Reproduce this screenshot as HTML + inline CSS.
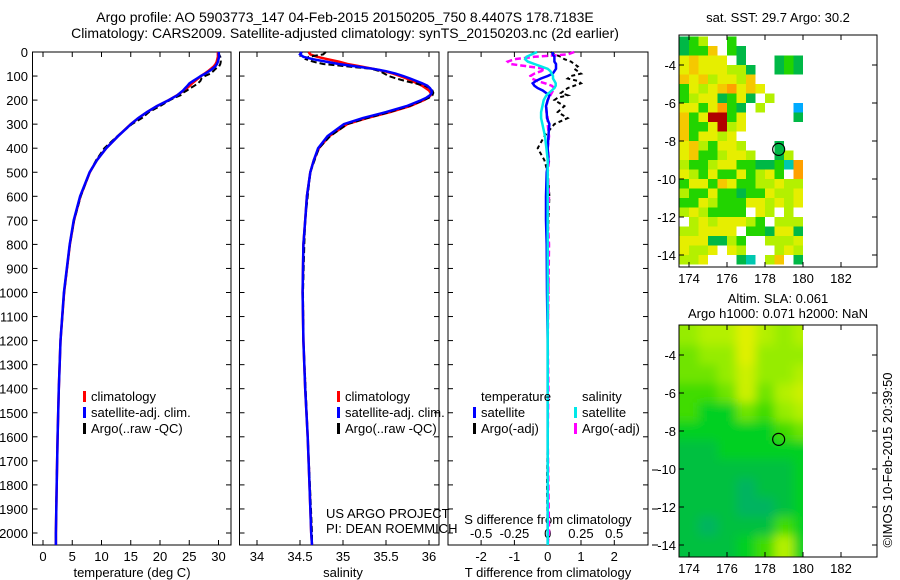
<!DOCTYPE html>
<html><head><meta charset="utf-8"><style>
body{margin:0;background:#fff;}
svg{display:block;font-family:"Liberation Sans",sans-serif;}
text{font-size:13px;fill:#000;}
</style></head><body>
<svg id="fig" width="900" height="580" viewBox="0 0 900 580">
<defs>
<filter id="blur" x="-5%" y="-5%" width="110%" height="110%"><feGaussianBlur stdDeviation="5"/></filter>
<clipPath id="clipSla"><rect x="679" y="325" width="124" height="232"/></clipPath>
</defs>
<text x="345" y="22" text-anchor="middle" style="font-size:14px">Argo profile: AO 5903773_147 04-Feb-2015 20150205_750 8.4407S 178.7183E</text>
<text x="345" y="38" text-anchor="middle" style="font-size:14px">Climatology: CARS2009. Satellite-adjusted climatology: synTS_20150203.nc (2d earlier)</text>
<text x="778" y="22" text-anchor="middle">sat. SST: 29.7 Argo: 30.2</text>
<text x="778" y="303" text-anchor="middle">Altim. SLA: 0.061</text>
<text x="778" y="318" text-anchor="middle">Argo h1000: 0.071 h2000: NaN</text>
<text transform="translate(892,460) rotate(-90)" text-anchor="middle">©IMOS 10-Feb-2015 20:39:50</text>
<g id="g"></g>
</svg>
<script>
const depths=[0,10,20,30,40,50,60,70,80,90,100,110,120,130,140,150,160,170,180,190,200,225,250,275,300,350,400,450,500,600,700,800,1000,1200,1400,1600,1800,2000,2050];
const tClim=[29.9,29.9,29.9,29.8,29.7,29.5,29.2,28.7,28.2,27.6,27.0,26.5,26.0,25.5,25.1,24.6,24.1,23.5,22.9,22.2,21.5,19.5,17.8,16.3,15.0,12.8,10.8,9.2,8.0,6.4,5.3,4.6,3.6,3.0,2.7,2.5,2.35,2.2,2.2];
const sClim=[34.6,34.62,34.7,34.82,34.95,35.05,35.2,35.35,35.48,35.58,35.66,35.74,35.8,35.86,35.92,35.96,36.0,36.02,36.02,35.99,35.94,35.78,35.55,35.28,35.05,34.84,34.72,34.66,34.62,34.58,34.56,34.54,34.53,34.54,34.56,34.59,34.61,34.63,34.64];
const tSatDiff=[0.15,0.15,0.2,0.2,0.2,0.25,0.25,0.25,0.2,0.15,0,-0.2,-0.35,-0.45,-0.4,-0.3,-0.15,-0.05,0.05,0.03,0,-0.05,-0.03,-0.02,0.05,0.02,0,0.02,-0.03,-0.05,-0.05,-0.03,-0.02,0,0,0,0,0,0];
const tArgoDiff=[0.1,0.2,0.4,0.5,0.7,0.8,0.9,0.8,0.9,1.0,0.7,0.6,0.9,1.0,0.8,0.6,0.5,0.4,0.6,0.3,0.2,0.5,0.3,0.6,0.2,-0.1,-0.3,-0.1,0,0.05,0.02,0,0.02,0,0,0,-0.02,0,0];
const sSatDiff=[-0.08,-0.12,-0.16,-0.17,-0.15,-0.1,-0.05,0,0.02,0.03,0.04,0.04,0.05,0.06,0.06,0.05,0.03,0.01,-0.01,-0.02,-0.03,-0.04,-0.05,-0.05,-0.04,-0.02,-0.01,0,0,0,0,0,0,0,0,0,0,0,0];
const sArgoDiff=[0.2,0.15,-0.1,-0.25,-0.3,-0.28,-0.15,-0.02,-0.05,-0.1,-0.13,-0.12,-0.08,-0.02,0.03,0.05,0.04,0.03,0.02,0.01,0,-0.01,-0.01,0,0,0.01,0,0.01,0,0.01,0,0.01,0.005,0,0.005,0,0.005,0.01,0];
const depthTicks=[0,100,200,300,400,500,600,700,800,900,1000,1100,1200,1300,1400,1500,1600,1700,1800,1900,2000];
const tTicks=[0,5,10,15,20,25,30];
const sTicks=[34,34.5,35,35.5,36];
const tdTicks=[-2,-1,0,1,2];
const sdTicks=[-0.5,-0.25,0,0.25,0.5];
const sdTickLabels=["-0.5","-0.25","0","0.25","0.5"];
const latTicks=[-4,-6,-8,-10,-12,-14];
const lonTicks=[174,176,178,180,182];
const sstRows=[
"dgl..g........",
"dggo.gd.......",
"yoyyy.d...dgd.",
"yoyyylld..dgd.",
"oyolyylo......",
"gylyoOyoy.....",
"glyydgyd.l....",
"yygyOgd.l...b.",
"ogyrrgy.....d.",
"oggyrly.......",
"ogyyly........",
"yolgyyl...d...",
"yogglyyl..dl..",
"lgglyyggddgcO.",
"ylgyggyglyg.O.",
"gyygoyggllyll.",
"lggyggdggylly.",
"ggylgggyylyly.",
"lylgggg.yl.l..",
".lylyyylg.lll.",
"llyyyy.ggdyyd.",
"yyyddlg..lllY.",
"ylly.yl...lyl.",
"lly...dc.lo.d."];
const sstColors={y:"#e6ee00",l:"#b4f000",g:"#22d400",d:"#00b846",o:"#f5c800",O:"#ffa000",r:"#b00000",c:"#00c8b0",b:"#00aaff",Y:"#d8f000"};
const slaRows=[[6,7,7,9,7,6,7],[5,6,6,9,6,6,6],[5,5,6,8,6,6,7],[4,4,5,8,5,7,8],[4,3,3,5,4,6,7],[3,3,3,3,3,4,5],[2,2,3,3,3,3,3],[2,2,2,2,2,2,3],[2,2,2,1,2,2,3],[2,2,2,1,1,2,3],[2,1,2,2,2,4,3],[2,2,2,3,4,7,3]];
const argoLon=178.7183, argoLat=-8.4407;

const NS="http://www.w3.org/2000/svg";
const G=document.getElementById('g');
function mk(tag,attrs,parent){const e=document.createElementNS(NS,tag);for(const k in attrs)e.setAttribute(k,attrs[k]);(parent||G).appendChild(e);return e;}
function txt(x,y,s,anchor,parent){const e=mk('text',{x:x,y:y,'text-anchor':anchor||'middle'},parent);e.textContent=s;return e;}

const TOP=52,BOT=545;
const yD=d=>TOP+d*0.2405;
const xT=t=>43+t*5.85;
const xS=s=>257+(s-34)*86;
const xTD=t=>547.7+t*33.3;
const xSD=s=>547.7+s*133;

function panel(name,x0,x1){
  const g=mk('g',{});
  
  
  mk('rect',{x:x0,y:TOP,width:x1-x0,height:BOT-TOP,fill:'none',stroke:'#000','stroke-width':1},g);
  depthTicks.forEach(d=>{
    mk('line',{x1:x0,x2:x0+5,y1:yD(d),y2:yD(d),stroke:'#000'},g);
    mk('line',{x1:x1,x2:x1-5,y1:yD(d),y2:yD(d),stroke:'#000'},g);
  });
  return g;
}
function path(fn,vals,diff,color,w,dash,parent,name){
  let d='';
  depths.forEach((z,i)=>{const v=diff?vals[i]+diff[i]:vals[i];d+=(i?'L':'M')+fn(v).toFixed(1)+','+yD(z).toFixed(1);});
  const p=mk('path',{d:d,fill:'none',stroke:color,'stroke-width':w},parent);
  if(dash)p.setAttribute('stroke-dasharray',dash);
  
  
  return p;
}
function legend(x,y,color,label,parent,name){
  const r=mk('rect',{x:x,y:y-10,width:3,height:11,fill:color},parent);
  
  
  const t=txt(x+8,y,label,'start',parent);
  
  
}

const p1=panel('temperature-panel',32.5,231);
depthTicks.forEach(d=>{txt(28,yD(d)+5,String(d),'end',p1);});
tTicks.forEach(v=>{mk('line',{x1:xT(v),x2:xT(v),y1:BOT,y2:BOT-5,stroke:'#000'},p1);mk('line',{x1:xT(v),x2:xT(v),y1:TOP,y2:TOP+5,stroke:'#000'},p1);txt(xT(v),561,String(v),'middle',p1);});
const xl1=txt(132,577,'temperature (deg C)','middle',p1);


path(xT,tClim,null,'#ff0000',2.5,null,p1,'temp-climatology-line');
path(xT,tClim,tArgoDiff,'#000',2,'6,3',p1,'temp-argo-line');
path(xT,tClim,tSatDiff,'#0000ff',2.5,null,p1,'temp-satellite-line');
legend(83,401,'#ff0000','climatology',p1,'legend-climatology');
legend(83,417,'#0000ff','satellite-adj. clim.',p1,'legend-satellite-adj');
legend(83,433,'#000','Argo(..raw -QC)',p1,'legend-argo');

const p2=panel('salinity-panel',239.5,439);
sTicks.forEach(v=>{mk('line',{x1:xS(v),x2:xS(v),y1:BOT,y2:BOT-5,stroke:'#000'},p2);mk('line',{x1:xS(v),x2:xS(v),y1:TOP,y2:TOP+5,stroke:'#000'},p2);txt(xS(v),561,String(v),'middle',p2);});
const xl2=txt(343,577,'salinity','middle',p2);


path(xS,sClim,null,'#ff0000',2.5,null,p2,'sal-climatology-line');
path(xS,sClim,sArgoDiff,'#000',2,'6,3',p2,'sal-argo-line');
path(xS,sClim,sSatDiff,'#0000ff',2.5,null,p2,'sal-satellite-line');
legend(337,401,'#ff0000','climatology',p2,'legend-sal-climatology');
legend(337,417,'#0000ff','satellite-adj. clim.',p2,'legend-sal-satellite-adj');
legend(337,433,'#000','Argo(..raw -QC)',p2,'legend-sal-argo');
txt(326,518,'US ARGO PROJECT','start',p2);
txt(326,533,'PI: DEAN ROEMMICH','start',p2);

const p3=panel('difference-panel',448,648);
tdTicks.forEach(v=>{mk('line',{x1:xTD(v),x2:xTD(v),y1:BOT,y2:BOT-5,stroke:'#000'},p3);mk('line',{x1:xTD(v),x2:xTD(v),y1:TOP,y2:TOP+5,stroke:'#000'},p3);txt(xTD(v),561,String(v),'middle',p3);});
sdTicks.forEach((v,i)=>{txt(xSD(v),538,sdTickLabels[i],'middle',p3);});
txt(548,524,'S difference from climatology','middle',p3);
const xl3=txt(548,577,'T difference from climatology','middle',p3);


[470,509,545].forEach(y=>mk('line',{x1:652,x2:658,y1:y,y2:y,stroke:'#000'},p3));
const zero=depths.map(()=>0);
path(xTD,zero,tArgoDiff,'#000',2,'4,3',p3,'t-argo-diff-line');
path(xSD,zero,sArgoDiff,'#ff00ff',2.5,'6,3',p3,'s-argo-diff-line');
path(xTD,zero,tSatDiff,'#0000ff',2.5,null,p3,'t-satellite-diff-line');
path(xSD,zero,sSatDiff,'#00e8e8',2.5,null,p3,'s-satellite-diff-line');
txt(481,401,'temperature','start',p3);
legend(473,417,'#0000ff','satellite',p3,'legend-t-satellite');
legend(473,433,'#000','Argo(-adj)',p3,'legend-t-argo');
txt(582,401,'salinity','start',p3);
legend(574,417,'#00e8e8','satellite',p3,'legend-s-satellite');
legend(574,433,'#ff00ff','Argo(-adj)',p3,'legend-s-argo');

const MX0=679,MX1=877;
const lonX=l=>689+(l-174)*19;
function mapFrame(name){
  const g=mk('g',{});
  
  
  return g;
}
function mapAxes(g,top,bot,latY){
  mk('rect',{x:MX0,y:top,width:MX1-MX0,height:bot-top,fill:'none',stroke:'#000'},g);
  latTicks.forEach(l=>{const y=latY(l);mk('line',{x1:MX0,x2:MX0+5,y1:y,y2:y,stroke:'#000'},g);mk('line',{x1:MX1,x2:MX1-5,y1:y,y2:y,stroke:'#000'},g);txt(676,y+5,String(l),'end',g);});
  lonTicks.forEach(l=>{const x=lonX(l);mk('line',{x1:x,x2:x,y1:top,y2:top+5,stroke:'#000'},g);mk('line',{x1:x,x2:x,y1:bot,y2:bot-5,stroke:'#000'},g);txt(x,bot+16,String(l),'middle',g);});
  const c=mk('circle',{cx:lonX(argoLon),cy:latY(argoLat),r:6,fill:'none',stroke:'#000','stroke-width':1.2},g);
  
  
}
const sstTop=35,sstBot=267;
const latY1=l=>65+(-4-l)*19;
const gm1=mapFrame('sst-map');
sstRows.forEach((row,r)=>{
  for(let c=0;c<row.length;c++){
    const ch=row[c]; if(ch==='.')continue;
    const lon=173.5+c*0.5, lat=-2.5-r*0.5;
    const x0=Math.max(MX0,lonX(lon)), y0=Math.max(sstTop,latY1(lat));
    const cell=mk('rect',{x:x0,y:y0,width:lonX(lon+0.5)-x0,height:Math.min(sstBot,latY1(lat-0.5))-y0,fill:sstColors[ch]},gm1);
    
    
  }
});
mapAxes(gm1,sstTop,sstBot,latY1);
const slaTop=325,slaBot=557;
const latY2=l=>355+(-4-l)*19;
const slaPal=["#00a878","#00b460","#00c040","#00d020","#40dc00","#70e400","#96ec00","#b4f000","#ccf000","#e0f000"];
const gm2=mapFrame('sla-map');
const gs=mk('g',{'clip-path':'url(#clipSla)'},gm2);
const gb=mk('g',{filter:'url(#blur)'},gs);
slaRows.forEach((row,r)=>{
  row.forEach((v,c)=>{
    const lon=173.5+c, lat=-2.5-r;
    const cell=mk('rect',{x:lonX(lon)-(c===0?12:0),y:latY2(lat)-(r===0?12:0),width:19+(c===0?12:0)+(c===6?12:0),height:19+(r===0?12:0)+(r===11?12:0),fill:slaPal[v]},gb);
    
    
  });
});
mapAxes(gm2,slaTop,slaBot,latY2);
</script>
</body></html>
